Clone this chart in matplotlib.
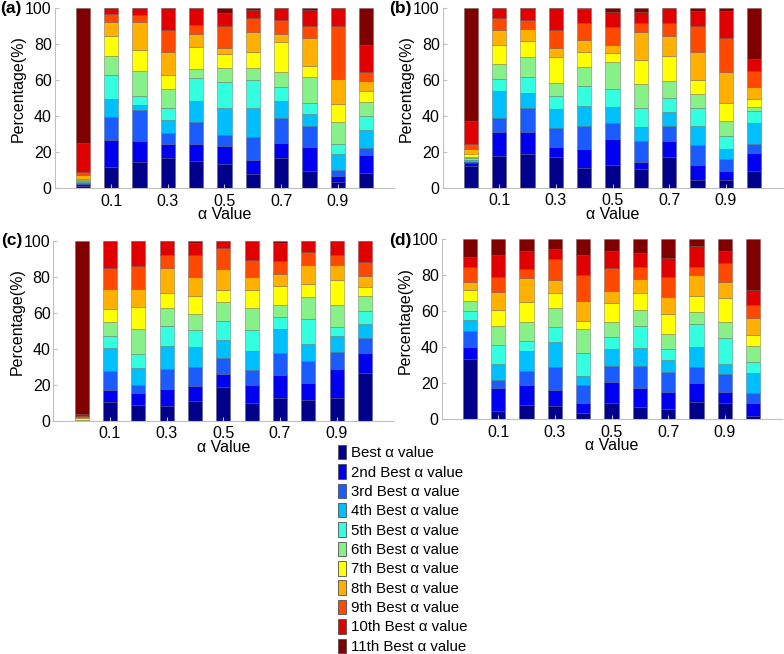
import numpy as np
import matplotlib
matplotlib.use('Agg')
import matplotlib.pyplot as plt
from matplotlib.patches import Patch

plt.rcParams['font.family'] = ['Liberation Sans', 'DejaVu Sans']

alphas = [0.0, 0.1, 0.2, 0.3, 0.4, 0.5, 0.6, 0.7, 0.8, 0.9, 1.0]
xticks = [0.1, 0.3, 0.5, 0.7, 0.9]
xtick_labels = ['0.1', '0.3', '0.5', '0.7', '0.9']
yticks = [0, 20, 40, 60, 80, 100]

rank_labels = ['Best \u03b1 value', '2nd Best \u03b1 value', '3rd Best \u03b1 value',
               '4th Best \u03b1 value', '5th Best \u03b1 value', '6th Best \u03b1 value',
               '7th Best \u03b1 value', '8th Best \u03b1 value', '9th Best \u03b1 value',
               '10th Best \u03b1 value', '11th Best \u03b1 value']
rank_colors = ['#00008a', '#0000f0', '#1a5cff', '#00bfff', '#33ffe0', '#88f088',
               '#ffff00', '#ffb000', '#ff4800', '#e00000', '#800000']

# one row per alpha value, segments from best to 11th best (percent)
panel_a = [
    [1, 1, 0.7, 0.8, 0.5, 0.5, 0.5, 2, 2, 16, 75],
    [11.5, 15.1, 13, 10, 13.4, 10.4, 11.2, 7.8, 4.3, 3.3, 0],
    [14.5, 11.7, 16.9, 3, 5.2, 13.6, 11.5, 15.8, 3.9, 3.9, 0],
    [16.9, 7.3, 6.1, 7.4, 6.7, 10.6, 8, 12.7, 12, 12.3, 0],
    [15.2, 9, 12.4, 11.9, 12.7, 5, 11.9, 7.6, 4.8, 9.5, 0],
    [13.6, 9.8, 6.3, 14.5, 14.7, 7.8, 7.8, 3.4, 12.2, 7.1, 2.8],
    [8, 7.8, 12.3, 16.1, 15.8, 6.4, 8.9, 11.5, 7.4, 4.7, 1.1],
    [16.7, 8.4, 13.9, 9.1, 8, 8.2, 16.7, 4.7, 7.6, 6.7, 0],
    [9.3, 13.7, 11.2, 6.7, 6.3, 14.5, 6.3, 15.5, 6.6, 9, 0.9],
    [3.5, 3, 3.4, 9.2, 5.6, 11.9, 10.2, 13.6, 29.7, 9.9, 0],
    [8.2, 10.2, 3.7, 9.9, 8.1, 7.9, 5.7, 6, 4.8, 15.1, 20.4],
]
panel_b = [
    [12, 2, 0.5, 0.8, 1, 0.7, 2, 2.6, 2.6, 13.1, 62.7],
    [17.7, 13.2, 7.7, 15, 7, 8.3, 10.2, 8.5, 6.5, 5.9, 0],
    [18.7, 12.2, 13.5, 8.3, 9, 10.9, 8.9, 6.7, 5.1, 6.7, 0],
    [17, 5.6, 10.7, 10.3, 7.2, 7.4, 14.4, 5, 9.8, 12.6, 0],
    [11.1, 10.5, 12.6, 11.1, 11.4, 10.2, 8.5, 6.5, 9.6, 7.6, 0.9],
    [12.6, 14.2, 9.1, 9.2, 9.8, 15, 5.1, 4.1, 10, 8.3, 2.6],
    [10.2, 4.2, 11.5, 7.7, 10.6, 13.3, 13.3, 15.7, 5.2, 5.7, 2.6],
    [17, 8.9, 8.5, 7.4, 8.3, 9.2, 14.1, 10.9, 7.4, 8.3, 0],
    [4.3, 8.3, 10.9, 10.9, 10, 7.4, 8.1, 15.3, 14.8, 8.2, 1.8],
    [4.3, 4.9, 6.7, 5.7, 6.9, 8.8, 10, 17, 19.1, 14.8, 1.8],
    [9.2, 10, 5.2, 11.5, 6.6, 2.6, 4.1, 6.6, 9.1, 6.6, 28.5],
]
panel_c = [
    [0, 0, 0, 0, 0.3, 0.3, 0.7, 0.7, 0.6, 1.4, 96],
    [10.4, 6.8, 10.3, 12.8, 6.8, 7.8, 7.2, 10.9, 12, 15, 0],
    [8.7, 6.8, 4.5, 9.2, 7.8, 14.2, 12, 9.8, 13, 13.6, 0.4],
    [8.1, 9.5, 11.4, 12.4, 11.1, 10.3, 8.4, 13.5, 7.2, 8.1, 0],
    [10.9, 8.3, 10.6, 11.4, 9.4, 8.7, 10.2, 10.4, 12, 6.8, 1.3],
    [18.7, 7.4, 8.8, 9.8, 10.9, 10.6, 6.6, 11.5, 11.6, 4.1, 0],
    [10, 10, 8.1, 10.9, 11.5, 12, 10.3, 7.1, 9.4, 10.7, 0],
    [12.6, 12.7, 12.2, 13.5, 6.5, 7, 10.5, 6.3, 7.4, 10, 1.3],
    [11.3, 9.8, 12.2, 9.4, 13.9, 12.2, 7, 10.5, 7.2, 6.5, 0],
    [12.6, 15.9, 9.8, 8.8, 5, 12, 13.9, 8.3, 5.9, 7.8, 0],
    [26.6, 11.1, 8.1, 7.8, 7.6, 7.9, 5, 6.3, 7.8, 11.4, 0.4],
]
panel_d = [
    [33.4, 6.9, 8.9, 5.9, 4.8, 6, 6.1, 4.1, 8.7, 5.6, 9.6],
    [4.8, 12.4, 4.7, 9.1, 10.5, 10.5, 9, 9.7, 8.3, 12.5, 8.5],
    [8, 11.1, 7.8, 11.1, 5.6, 10.4, 11.1, 13.4, 5.2, 9.6, 6.7],
    [7.4, 9.1, 12.6, 13.8, 8.3, 10.6, 8.1, 7.7, 11.3, 5.9, 5.2],
    [3.7, 5.6, 10, 4.8, 12.6, 13.4, 4.3, 11.5, 14.4, 11.2, 8.5],
    [9.3, 11.5, 8.9, 9.1, 6.8, 8.4, 10.4, 7, 12.5, 9.8, 6.3],
    [6.9, 10.4, 12.4, 9.8, 12.4, 9.1, 8.9, 7.8, 6.9, 7.6, 7.8],
    [5.6, 9.8, 10.9, 6.4, 6.1, 8.5, 11.1, 9.5, 11.1, 10.6, 10.4],
    [9.6, 10.3, 9.2, 11, 12.8, 6.7, 9, 11.7, 4.3, 11.7, 3.7],
    [9.1, 6.1, 9.7, 5.7, 14.5, 8.9, 13.3, 9, 10.3, 7.1, 6.3],
    [2, 6.9, 5.8, 11.1, 6.1, 9.1, 6.1, 9.1, 7.1, 8.7, 28],
]

W, H = 784, 654
fig = plt.figure(figsize=(W / 100, H / 100), dpi=100)

# (tag, data, axes left px, axes bottom px, tag x px, tag y px)
panels = [
    ('(a)', panel_a, 54.5, 188.0, 0, 9),
    ('(b)', panel_b, 442.5, 187.7, 389, 8),
    ('(c)', panel_c, 53.3, 420.7, 1, 240),
    ('(d)', panel_d, 441.5, 419.3, 389, 240),
]
axw, axh = 340, 180

for tag, data, left, bottom, tx, ty in panels:
    ax = fig.add_axes([left / W, 1 - bottom / H, axw / W, axh / H])
    vals = np.array(data)
    base = np.zeros(len(alphas))
    for k in range(vals.shape[1]):
        ax.bar(alphas, vals[:, k], width=0.05, bottom=base, color=rank_colors[k],
               edgecolor=(0.3, 0.3, 0.3, 0.5), linewidth=0.5)
        base += vals[:, k]
    ax.set_xlim(-0.1, 1.1)
    ax.set_ylim(0, 100)
    ax.set_xticks(xticks)
    ax.set_xticklabels(xtick_labels)
    ax.set_yticks(yticks)
    ax.tick_params(direction='in', length=3, color='#c0c0c0', labelsize=11.5, pad=2)
    ax.tick_params(axis='x', pad=4)
    for s in ['top', 'right']:
        ax.spines[s].set_visible(False)
    for s in ['left', 'bottom']:
        ax.spines[s].set_color('#c0c0c0')
    ax.set_ylabel('Percentage(%)', fontsize=11.5)
    ax.yaxis.set_label_coords(-0.085, 0.55)
    ax.set_xlabel('\u03b1 Value', fontsize=11.5, labelpad=-1)
    fig.text(tx / W, 1 - ty / H, tag, fontsize=12.5, fontweight='bold',
             ha='left', va='center')

handles = [Patch(facecolor=c, edgecolor='#505050', linewidth=0.6) for c in rank_colors]
fig.legend(handles, rank_labels, loc='upper left', bbox_to_anchor=(338 / W, 1 - 445 / H),
           frameon=False, fontsize=10.8, handlelength=0.55, handleheight=1.1,
           handletextpad=0.3, labelspacing=0.27, borderaxespad=0, borderpad=0)

fig.savefig('out.png', dpi=100)
